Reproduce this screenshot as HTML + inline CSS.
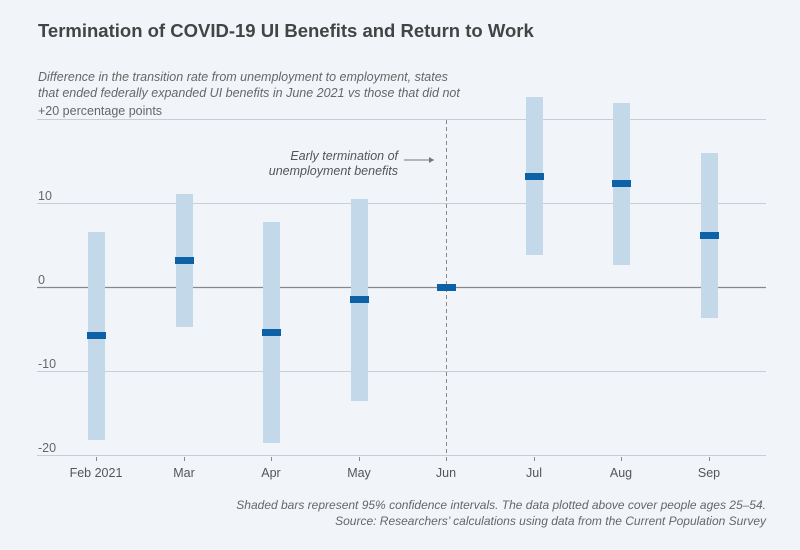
<!DOCTYPE html>
<html><head><meta charset="utf-8"><style>
body{margin:0;background:#f1f5fa;}
svg{display:block;font-family:"Liberation Sans",sans-serif;}
</style></head><body>
<svg width="800" height="550" xmlns="http://www.w3.org/2000/svg">
<rect width="800" height="550" fill="#f1f5fa"/>
<text x="38" y="37" font-size="18.5" font-weight="bold" fill="#444">Termination of COVID-19 UI Benefits and Return to Work</text>
<text x="38" y="81" font-size="12.5" font-style="italic" fill="#666">Difference in the transition rate from unemployment to employment, states</text>
<text x="38" y="97" font-size="12.5" font-style="italic" fill="#666">that ended federally expanded UI benefits in June 2021 vs those that did not</text>
<text x="38" y="115" font-size="12.5" fill="#666">+20 percentage points</text>
<g stroke="#c8ced6" stroke-width="1">
<line x1="37" x2="766" y1="119.5" y2="119.5"/>
<line x1="37" x2="766" y1="203.5" y2="203.5"/>
<line x1="37" x2="766" y1="371.5" y2="371.5"/>
<line x1="37" x2="766" y1="455.5" y2="455.5"/>
</g>
<line x1="37" x2="766" y1="287.5" y2="287.5" stroke="#888" stroke-width="1.2"/>
<g font-size="12.5" fill="#666">
<text x="38" y="200">10</text><text x="38" y="284">0</text><text x="38" y="368">-10</text><text x="38" y="452">-20</text>
</g>
<line x1="446.5" x2="446.5" y1="120" y2="455" stroke="#888" stroke-dasharray="4,3"/>
<text x="398" y="160" font-size="12.5" font-style="italic" fill="#555" text-anchor="end">Early termination of</text>
<text x="398" y="175" font-size="12.5" font-style="italic" fill="#555" text-anchor="end">unemployment benefits</text>
<line x1="404" x2="434" y1="160" y2="160" stroke="#777"/>
<path d="M434 160 l-5 -3 v6z" fill="#777"/>
<g fill="#c3d9ea">
<rect x="88" y="232" width="17" height="208"/>
<rect x="176" y="194" width="17" height="133"/>
<rect x="263" y="222" width="17" height="221"/>
<rect x="351" y="199" width="17" height="202"/>
<rect x="526" y="97" width="17" height="158"/>
<rect x="613" y="103" width="17" height="162"/>
<rect x="701" y="153" width="17" height="165"/>
</g>
<g fill="#0d61a6">
<rect x="87" y="332" width="19" height="7"/>
<rect x="175" y="257" width="19" height="7"/>
<rect x="262" y="329" width="19" height="7"/>
<rect x="350" y="296" width="19" height="7"/>
<rect x="437" y="284" width="19" height="7"/>
<rect x="525" y="173" width="19" height="7"/>
<rect x="612" y="180" width="19" height="7"/>
<rect x="700" y="232" width="19" height="7"/>
</g>
<g stroke="#888"><line x1="96.5" x2="96.5" y1="457" y2="461"/><line x1="184.5" x2="184.5" y1="457" y2="461"/><line x1="271.5" x2="271.5" y1="457" y2="461"/><line x1="359.5" x2="359.5" y1="457" y2="461"/><line x1="446.5" x2="446.5" y1="457" y2="461"/><line x1="534.5" x2="534.5" y1="457" y2="461"/><line x1="621.5" x2="621.5" y1="457" y2="461"/><line x1="709.5" x2="709.5" y1="457" y2="461"/></g>
<g font-size="12.5" fill="#555" text-anchor="middle">
<text x="96" y="477">Feb 2021</text><text x="184" y="477">Mar</text><text x="271" y="477">Apr</text><text x="359" y="477">May</text><text x="446" y="477">Jun</text><text x="534" y="477">Jul</text><text x="621" y="477">Aug</text><text x="709" y="477">Sep</text>
</g>
<g font-size="12" font-style="italic" fill="#666" text-anchor="end">
<text x="766" y="509">Shaded bars represent 95% confidence intervals. The data plotted above cover people ages 25–54.</text>
<text x="766" y="525">Source: Researchers’ calculations using data from the Current Population Survey</text>
</g>
</svg>
</body></html>
